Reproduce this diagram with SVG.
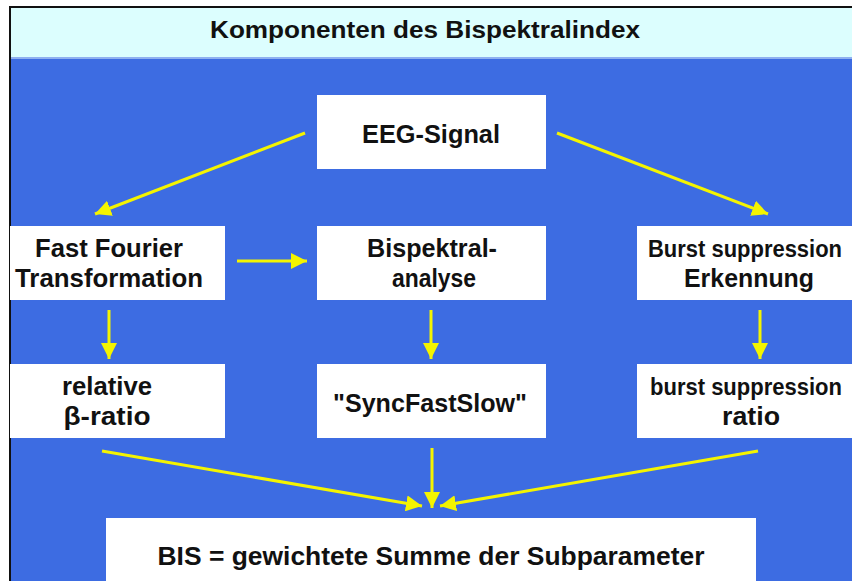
<svg xmlns="http://www.w3.org/2000/svg" width="852" height="581" viewBox="0 0 852 581">
  <style>
    .box { fill: #ffffff; }
    .lbl { font-family: "Liberation Sans", Arial, sans-serif; font-weight: bold; font-size: 25px; fill: #111111; text-anchor: middle; }
    .title { font-size: 24px; }
    .tight { font-size: 23px; }
    .con { stroke: #f4f400; stroke-width: 3; fill: none; marker-end: url(#head); }
  </style>
  <defs>
    <marker id="head" markerUnits="userSpaceOnUse" markerWidth="18" markerHeight="16" refX="16" refY="8" orient="auto">
      <path d="M0,0 L16,8 L0,16 Z" fill="#f4f400"/>
    </marker>
  </defs>

  <!-- page and frame -->
  <rect x="0" y="0" width="852" height="581" fill="#ffffff"/>
  <rect x="10" y="7" width="860" height="600" fill="#3d6ce2" stroke="#111111" stroke-width="2"/>
  <rect x="11" y="8" width="841" height="50" fill="#dcfefe"/>
  <rect x="11" y="57" width="841" height="2" fill="#8fb0f0"/>
  <text class="lbl title" x="425" y="38" textLength="430" lengthAdjust="spacingAndGlyphs">Komponenten des Bispektralindex</text>

  <!-- connectors -->
  <g id="connectors">
    <line class="con" x1="305" y1="133" x2="95" y2="214"/>
    <line class="con" x1="557" y1="133" x2="768" y2="214"/>
    <line class="con" x1="237" y1="261" x2="307" y2="261"/>
    <line class="con" x1="109" y1="310" x2="109" y2="359"/>
    <line class="con" x1="431" y1="310" x2="431" y2="359"/>
    <line class="con" x1="760" y1="310" x2="760" y2="359"/>
    <line class="con" x1="102" y1="451" x2="422" y2="506"/>
    <line class="con" x1="432" y1="448" x2="432" y2="508"/>
    <line class="con" x1="758" y1="451" x2="440" y2="506"/>
  </g>

  <g id="eeg">
    <rect class="box" x="317" y="95" width="229" height="74"/>
    <text class="lbl" x="431" y="143" textLength="138" lengthAdjust="spacingAndGlyphs">EEG-Signal</text>
  </g>

  <g id="fft">
    <rect class="box" x="10" y="226" width="215" height="74"/>
    <text class="lbl" x="109" y="257" textLength="148" lengthAdjust="spacingAndGlyphs">Fast Fourier</text>
    <text class="lbl" x="109" y="287" textLength="188" lengthAdjust="spacingAndGlyphs">Transformation</text>
  </g>

  <g id="bispektral">
    <rect class="box" x="317" y="226" width="229" height="74"/>
    <text class="lbl" x="432" y="257" textLength="130" lengthAdjust="spacingAndGlyphs">Bispektral-</text>
    <text class="lbl" x="434" y="287" textLength="84" lengthAdjust="spacingAndGlyphs">analyse</text>
  </g>

  <g id="burst">
    <rect class="box" x="637" y="226" width="215" height="74"/>
    <text class="lbl tight" x="745" y="257" textLength="194" lengthAdjust="spacingAndGlyphs">Burst suppression</text>
    <text class="lbl" x="749" y="287" textLength="130" lengthAdjust="spacingAndGlyphs">Erkennung</text>
  </g>

  <g id="beta">
    <rect class="box" x="10" y="364" width="215" height="74"/>
    <text class="lbl" x="107" y="395" textLength="90" lengthAdjust="spacingAndGlyphs">relative</text>
    <text class="lbl" x="107" y="425" textLength="87" lengthAdjust="spacingAndGlyphs">β-ratio</text>
  </g>

  <g id="syncfastslow">
    <rect class="box" x="317" y="364" width="229" height="74"/>
    <text class="lbl" x="430" y="412" textLength="194" lengthAdjust="spacingAndGlyphs">"SyncFastSlow"</text>
  </g>

  <g id="bsr">
    <rect class="box" x="637" y="364" width="215" height="74"/>
    <text class="lbl tight" x="746" y="395" textLength="192" lengthAdjust="spacingAndGlyphs">burst suppression</text>
    <text class="lbl" x="751" y="425" textLength="58" lengthAdjust="spacingAndGlyphs">ratio</text>
  </g>

  <g id="bis">
    <rect class="box" x="106" y="518" width="650" height="63"/>
    <text class="lbl" x="431" y="565" textLength="547" lengthAdjust="spacingAndGlyphs">BIS = gewichtete Summe der Subparameter</text>
  </g>
</svg>
